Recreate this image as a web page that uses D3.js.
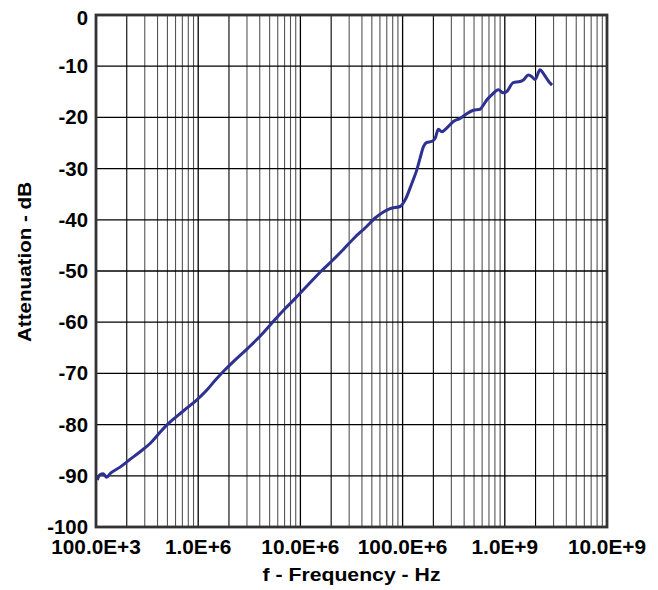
<!DOCTYPE html>
<html>
<head>
<meta charset="utf-8">
<script src="https://cdn.jsdelivr.net/npm/d3@7/dist/d3.min.js"></script>
<style>
  html, body { margin: 0; padding: 0; background: #fff; }
  text { font-family: "Liberation Sans", Arial, Helvetica, sans-serif; font-weight: bold; fill: #000; }
</style>
</head>
<body>
<svg id="chart" width="658" height="590"></svg>
<script>
// ---- data ----
const freqHz = [1.03e5,1.09e5,1.18e5,1.27e5,1.37e5,1.72e5,2.15e5,2.70e5,3.38e5,4.07e5,4.92e5,6.17e5,7.71e5,9.66e5,
  1.21e6,1.46e6,1.83e6,2.29e6,3.09e6,4.18e6,5.24e6,6.80e6,8.86e6,
  1.19e7,1.62e7,2.02e7,2.63e7,3.42e7,4.29e7,5.50e7,7.54e7,9.45e7,
  1.06e8,1.23e8,1.37e8,1.48e8,1.60e8,1.72e8,1.93e8,2.08e8,2.24e8,2.42e8,2.70e8,3.14e8,3.65e8,4.24e8,4.92e8,5.72e8,6.16e8,6.65e8,7.45e8,8.64e8,9.67e8,
  1.04e9,1.21e9,1.41e9,1.52e9,1.70e9,1.83e9,1.98e9,2.21e9,2.38e9,2.57e9,2.77e9,2.90e9];
const attenuationDb = [-90.8,-89.8,-89.6,-90.3,-89.6,-88.3,-86.8,-85.3,-83.7,-81.9,-80.1,-78.4,-76.8,-75.2,
  -73.3,-71.4,-69.3,-67.4,-65.0,-62.4,-60.2,-57.7,-55.4,
  -52.7,-49.9,-48.1,-45.8,-43.4,-41.6,-39.5,-37.8,-37.4,
  -36.1,-32.9,-30.4,-28.0,-25.7,-24.9,-24.7,-24.1,-22.3,-22.8,-22.1,-20.8,-20.2,-19.3,-18.6,-18.4,-17.6,-16.6,-15.6,-14.6,-15.2,
  -15.0,-13.2,-13.0,-12.7,-11.7,-12.0,-12.6,-10.7,-11.4,-12.4,-13.3,-13.7];
const xTickValues = [1e5, 1e6, 1e7, 1e8, 1e9, 1e10];
const xTickLabels = ["100.0E+3", "1.0E+6", "10.0E+6", "100.0E+6", "1.0E+9", "10.0E+9"];
const yTickValues = [0, -10, -20, -30, -40, -50, -60, -70, -80, -90, -100];
const xTitle = "f - Frequency - Hz";
const yTitle = "Attenuation - dB";

// ---- layout ----
const L = 96, R = 607, T = 15, B = 527;
const svg = d3.select("#chart");
const x = d3.scaleLog().domain([1e5, 1e10]).range([L, R]);
const y = d3.scaleLinear().domain([0, -100]).range([T, B]);

// minor grid values 1..9 per decade
const gridX = [];
for (let e = 5; e < 10; e++) for (let m = 1; m <= 9; m++) gridX.push({v: m * Math.pow(10, e), m});

const g = svg.append("g");
g.selectAll("line.vx").data(gridX.filter(d => d.m !== 1)).join("line")
  .attr("x1", d => x(d.v)).attr("x2", d => x(d.v)).attr("y1", T).attr("y2", B)
  .attr("stroke", d => d.m === 2 ? "#000" : "#555").attr("stroke-width", 1.1);
g.selectAll("line.vd").data(xTickValues).join("line")
  .attr("x1", d => x(d)).attr("x2", d => x(d)).attr("y1", T).attr("y2", B)
  .attr("stroke", "#000").attr("stroke-width", 1.3);
g.selectAll("line.h").data(yTickValues).join("line")
  .attr("x1", L).attr("x2", R).attr("y1", d => y(d)).attr("y2", d => y(d))
  .attr("stroke", "#000").attr("stroke-width", 1.3);

// data line
const line = d3.line().x((d, i) => x(freqHz[i])).y(d => y(d)).curve(d3.curveMonotoneX);
svg.append("path").datum(attenuationDb)
  .attr("d", line).attr("fill", "none")
  .attr("stroke", "#2e3192").attr("stroke-width", 3).attr("stroke-linejoin", "round");

// frame
svg.append("rect").attr("x", L).attr("y", T).attr("width", R - L).attr("height", B - T)
  .attr("fill", "none").attr("stroke", "#333").attr("stroke-width", 2.8);

function stretch(sel, factor) {
  sel.each(function() {
    const w = this.getComputedTextLength();
    d3.select(this).attr("textLength", w * factor).attr("lengthAdjust", "spacingAndGlyphs");
  });
}

// y tick labels
const yl = svg.selectAll("text.yt").data(yTickValues).join("text")
  .attr("class", "yt")
  .attr("x", 88).attr("y", d => y(d) + (d === 0 ? 10 : 7))
  .attr("text-anchor", "end").attr("font-size", 20)
  .text(d => d);
stretch(yl, 1.02);

// x tick labels
const xl = svg.selectAll("text.xt").data(xTickValues).join("text")
  .attr("class", "xt")
  .attr("x", d => x(d)).attr("y", 554)
  .attr("text-anchor", "middle").attr("font-size", 20)
  .text((d, i) => xTickLabels[i]);
stretch(xl, 1.04);

// titles
svg.append("text").attr("x", (L + R) / 2).attr("y", 581)
  .attr("text-anchor", "middle").attr("font-size", 18.5)
  .attr("textLength", 178).attr("lengthAdjust", "spacingAndGlyphs")
  .text(xTitle);
svg.append("text").attr("transform", "translate(31,262) rotate(-90)")
  .attr("text-anchor", "middle").attr("font-size", 18.5)
  .attr("textLength", 160).attr("lengthAdjust", "spacingAndGlyphs")
  .text(yTitle);
</script>
</body>
</html>
